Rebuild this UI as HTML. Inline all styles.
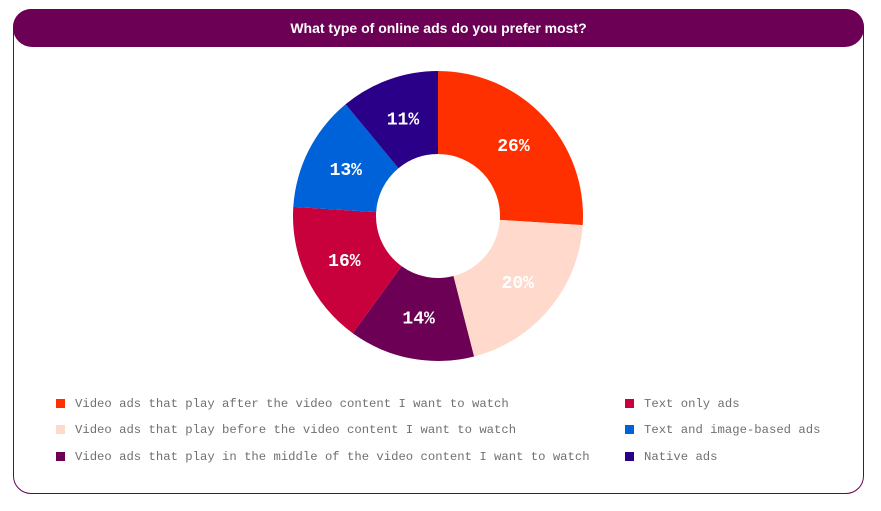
<!DOCTYPE html>
<html><head><meta charset="utf-8"><style>
body{margin:0;width:881px;height:511px;background:#fff;overflow:hidden;font-family:"Liberation Sans",sans-serif}
#card{position:absolute;left:13px;top:9px;width:851px;height:485px;border:1.5px solid #6b0054;border-radius:18px;box-sizing:border-box}
#hdr{position:absolute;left:13px;top:9px;width:851px;height:38px;background:#6b0054;border-radius:19px;color:#fff;font-weight:bold;font-size:14px;text-align:center;line-height:38px}
.lg{position:absolute;font-family:"Liberation Mono",monospace;font-size:12.25px;color:#707070;white-space:nowrap}
.sq{position:absolute;width:9px;height:9px}
</style></head><body>
<div id="card"></div>
<div id="hdr">What type of online ads do you prefer most?</div>
<svg id="svg" width="881" height="511" style="position:absolute;left:0;top:0"></svg>
<div id="legend"></div>
<script>
const categories=["Video ads that play after the video content I want to watch","Video ads that play before the video content I want to watch","Video ads that play in the middle of the video content I want to watch","Text only ads","Text and image-based ads","Native ads"];
const values=[26,20,14,16,13,11];
const colors=["#ff3000","#ffd9cc","#6b0054","#c8003c","#0062d8","#2a0088"];
const cx=438,cy=216,R=145,r=62;
const svg=document.getElementById('svg');const NS="http://www.w3.org/2000/svg";
const total=values.reduce((a,b)=>a+b,0);
function pt(a,rad){return [cx+rad*Math.sin(a),cy-rad*Math.cos(a)];}
let acc=0;
values.forEach((v,i)=>{
 const a0=acc/total*2*Math.PI;acc+=v;const a1=acc/total*2*Math.PI;
 const large=(a1-a0)>Math.PI?1:0;
 const [x0,y0]=pt(a0,R),[x1,y1]=pt(a1,R),[x2,y2]=pt(a1,r),[x3,y3]=pt(a0,r);
 const p=document.createElementNS(NS,'path');
 p.setAttribute('d',`M${x0},${y0}A${R},${R} 0 ${large} 1 ${x1},${y1}L${x2},${y2}A${r},${r} 0 ${large} 0 ${x3},${y3}Z`);
 p.setAttribute('fill',colors[i]);
 
 
 svg.appendChild(p);
 const [lx,ly]=pt((a0+a1)/2,(R+r)/2);
 const t=document.createElementNS(NS,'text');
 t.setAttribute('x',lx);t.setAttribute('y',ly+6);t.setAttribute('text-anchor','middle');
 t.setAttribute('fill','#fff');t.setAttribute('font-size','18');t.setAttribute('font-weight','bold');
 t.setAttribute('font-family','Liberation Mono, monospace');
 t.textContent=v+'%';
 
 
 svg.appendChild(t);
});
const lg=document.getElementById('legend');
categories.forEach((c,i)=>{
 const col=i<3?0:1,row=i%3;
 const sx=col?625:56,y=[404,430,457][row];
 const s=document.createElement('div');s.className='sq';
 s.style.left=sx+'px';s.style.top=(y-5)+'px';s.style.background=colors[i];
 
 
 lg.appendChild(s);
 const t=document.createElement('div');t.className='lg';
 t.style.left=(sx+19)+'px';t.style.top=(y-7)+'px';t.textContent=c;
 
 
 lg.appendChild(t);
});
</script>
</body></html>
